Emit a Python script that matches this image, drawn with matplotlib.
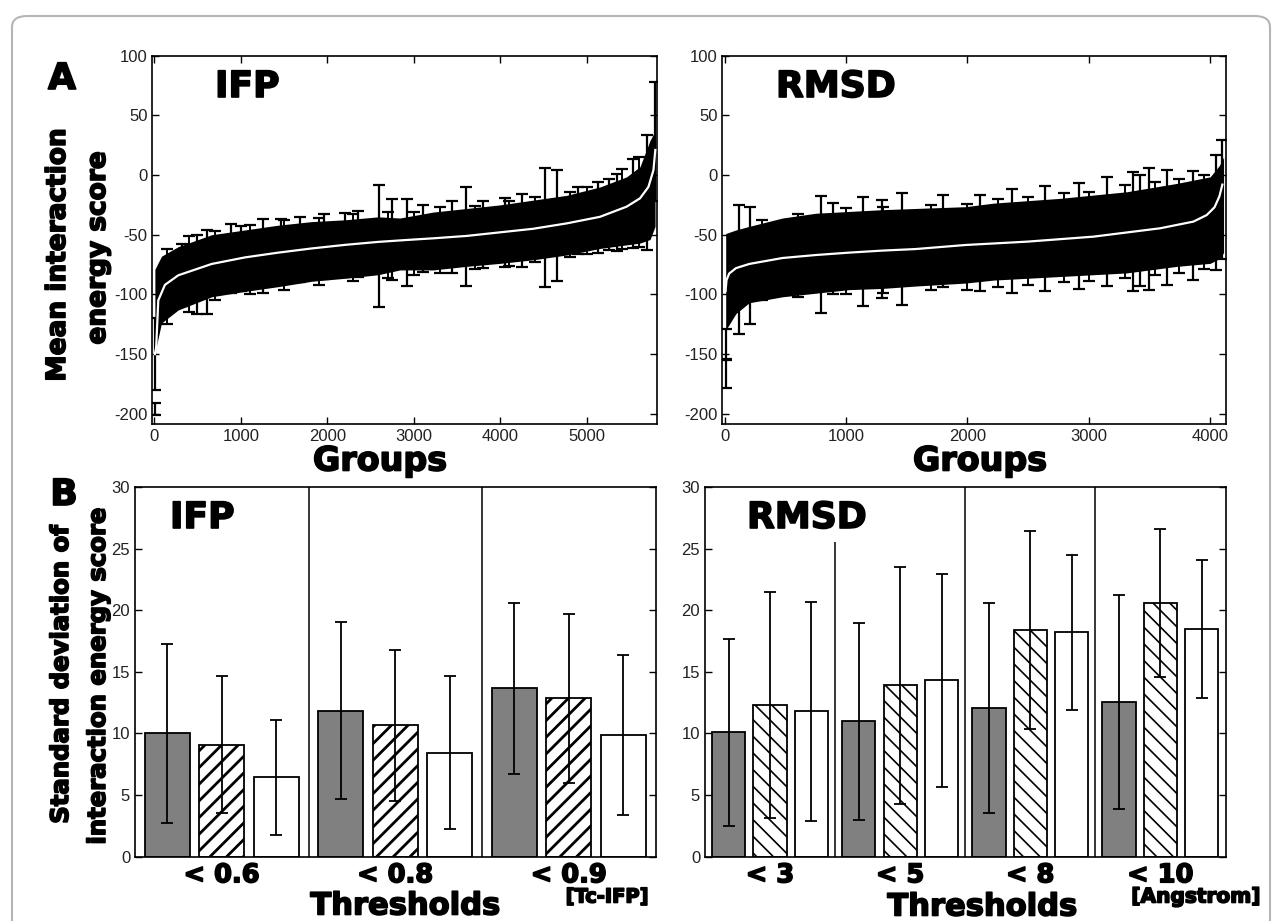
import matplotlib
matplotlib.use('Agg')
import matplotlib.pyplot as plt
import matplotlib.patheffects as pe
from matplotlib.patches import FancyBboxPatch

plt.rcParams['axes.unicode_minus'] = False
plt.rcParams['font.family'] = ['Liberation Sans', 'DejaVu Sans']

# ---- panel A, IFP: sorted mean curve, dense band, visible outlier error bars ----
ifp_mean_x = [5, 20, 44, 121, 275, 661, 1046, 1431, 1817, 2202, 2587, 2895, 3223, 3609,
              3994, 4379, 4765, 5150, 5458, 5613, 5710, 5768, 5790]
ifp_mean_y = [-150, -144, -105, -92, -84, -74.5, -69, -65, -61.5, -58.5, -56, -54.5, -53, -51,
              -48, -45, -40.5, -35, -26.5, -19.5, -10, 4, 21]
ifp_band_x = [5, 81, 275, 661, 1046, 1431, 1817, 2202, 2587, 2838, 3223, 3609, 3994, 4379,
              4765, 5150, 5458, 5613, 5729, 5787]
ifp_band_hi = [-79, -68, -60, -50, -46, -42, -39, -37.5, -35, -36, -31, -28, -25, -21,
               -17, -10, -1.5, 7, 29, 37]
ifp_band_lo = [-149, -124, -113, -102, -97.5, -93.5, -89, -86.5, -83.5, -79.5, -79.5, -76.5, -74, -71,
               -67, -61.5, -58.5, -57, -54, -43]
ifp_sp_x = [3, 8, 320, 488, 603, 884, 1000, 1258, 1460, 1682, 1960, 2202, 2356, 2596, 2750, 2923,
            3100, 3435, 3601, 3800, 4050, 4245, 4514, 4649, 4900, 5131, 5250, 5343, 5536, 5690, 5787]
ifp_sp_m = [-196, -150, -84, -83, -81, -70, -70, -68, -64, -62.5, -60, -58.5, -57.5, -59.5, -54, -56.5,
            -53, -52, -51.5, -50, -48, -46.5, -44, -42, -38, -35.5, -33, -31.5, -24, -14.5, 28]
ifp_sp_e = [5, 30, 26, 33, 35, 29, 27, 31, 27, 27.5, 27, 26.5, 27.5, 51, 34, 36.5,
            28, 30, 41.5, 28, 29, 30.5, 49.5, 46.5, 28, 30, 30, 32.5, 37.5, 48, 50]
# caps along the ragged band edges
ifp_edge_x = [150, 400, 700, 1100, 1500, 1900, 2300, 2700, 3000, 3300, 3700, 4100, 4400,
              4800, 5000, 5400, 5600]
ifp_edge_top = [-62, -51, -47, -42, -38, -36, -33, -31, -31, -27, -26, -22, -18, -14, -10, 5, 15]
ifp_edge_bot = [-125, -115, -105, -100, -96, -92, -89, -86, -84, -82, -79, -76, -73, -69, -66, -62, -60]

# ---- panel A, RMSD ----
rmsd_mean_x = [2, 10, 32, 88, 197, 472, 747, 1022, 1297, 1571, 1983, 2492, 3041, 3591,
               3866, 3976, 4040, 4080, 4105]
rmsd_mean_y = [-97, -88, -82.5, -78, -74.5, -69.5, -67, -65, -63.3, -62, -58.6, -55.8, -51.6, -44.6,
               -39, -33.5, -27, -18, -8]
rmsd_band_x = [3, 88, 197, 472, 747, 1022, 1297, 1571, 1983, 2217, 2767, 3316, 3729, 4004, 4080, 4115]
rmsd_band_hi = [-49, -46, -43, -36, -32, -30.5, -29, -28, -26.5, -23.5, -19.5, -14, -7, -1.5, 8, 15]
rmsd_band_lo = [-130, -116, -107, -102, -99, -96, -95, -93, -90.5, -88, -85, -82, -76.5, -74, -70, -65]
rmsd_sp_x = [3, 8, 115, 203, 788, 890, 1137, 1297, 1462, 1800, 2107, 2368, 2643, 2918, 3151,
             3371, 3426, 3503, 3646, 3866, 4050, 4100]
rmsd_sp_m = [-166, -142, -79, -76, -66.5, -61.5, -64, -62, -62, -55.5, -57, -55.5, -53.5, -51, -47.5,
             -47.5, -46.5, -45.5, -44, -42.5, -31.5, -20.5]
rmsd_sp_e = [12, 13, 54, 49, 49, 38.5, 46, 41, 47, 38.5, 40.5, 43.5, 44, 44.5, 45.5,
             50, 46.5, 51, 48, 45.5, 48, 49.5]
rmsd_edge_x = [300, 600, 1000, 1300, 1700, 2000, 2250, 2500, 2800, 3000, 3300, 3550, 3750, 3950]
rmsd_edge_top = [-38, -33, -28, -27, -25, -24, -20, -18, -15, -14, -8, -6, -3, 0]
rmsd_edge_bot = [-105, -102, -100, -99, -96, -96, -94, -92, -90, -89, -86, -84, -82, -79]

# ---- panel B: standard deviation of interaction energy score ----
ifp_thr = ['< 0.6', '< 0.8', '< 0.9']
ifp_gray = [10.0, 11.85, 13.65]
ifp_gray_err = [7.3, 7.2, 6.9]
ifp_hatch = [9.1, 10.65, 12.85]
ifp_hatch_err = [5.55, 6.1, 6.85]
ifp_white = [6.45, 8.45, 9.9]
ifp_white_err = [4.65, 6.2, 6.5]

rmsd_thr = ['< 3', '< 5', '< 8', '< 10']
rmsd_gray = [10.1, 11.0, 12.05, 12.55]
rmsd_gray_err = [7.6, 8.0, 8.5, 8.65]
rmsd_hatch = [12.3, 13.9, 18.4, 20.6]
rmsd_hatch_err = [9.15, 9.6, 8.05, 6.0]
rmsd_white = [11.8, 14.3, 18.2, 18.5]
rmsd_white_err = [8.9, 8.65, 6.3, 5.6]

W, H = 1284, 921
fig = plt.figure(figsize=(W / 100, H / 100), dpi=100)


def box(left, top, right, bottom):
    return [left / W, 1 - bottom / H, (right - left) / W, (bottom - top) / H]


heavy = dict(family='DejaVu Sans', fontweight='bold',
             path_effects=[pe.withStroke(linewidth=1.2, foreground='black')])


def ftext(px, py, s, size, **kw):
    opts = dict(heavy)
    opts.update(kw)
    fig.text(px / W, 1 - py / H, s, fontsize=size, **opts)


def style_ticks(ax):
    ax.tick_params(direction='in', top=True, right=True, length=5, width=1,
                   labelsize=12, labelcolor='#222222')
    for s in ax.spines.values():
        s.set_linewidth(1.2)


def draw_groups(ax, bx, lo, hi, mx, my, sx, sm, se, ex, etop, ebot, xmax, xticks):
    ax.fill_between(bx, lo, hi, color='black', lw=0, zorder=2)
    emid = [(t + b) / 2 for t, b in zip(etop, ebot)]
    ehalf = [(t - b) / 2 for t, b in zip(etop, ebot)]
    ax.errorbar(ex, emid, yerr=ehalf, fmt='none', ecolor='black', elinewidth=1.4,
                capsize=4, capthick=1.6, zorder=3)
    ax.errorbar(sx, sm, yerr=se, fmt='none', ecolor='black', elinewidth=1.6,
                capsize=4, capthick=1.6, zorder=3)
    ax.plot(mx, my, color='white', lw=1.6, zorder=4)
    ax.set_xlim(-25, xmax)
    ax.set_ylim(-209, 100)
    ax.set_xticks(xticks)
    ax.set_yticks([-200, -150, -100, -50, 0, 50, 100])
    style_ticks(ax)


axA1 = fig.add_axes(box(152.3, 55.7, 656.7, 424.5))
draw_groups(axA1, ifp_band_x, ifp_band_lo, ifp_band_hi, ifp_mean_x, ifp_mean_y,
            ifp_sp_x, ifp_sp_m, ifp_sp_e, ifp_edge_x, ifp_edge_top, ifp_edge_bot,
            5806, [0, 1000, 2000, 3000, 4000, 5000])
axA2 = fig.add_axes(box(722.3, 55.7, 1226, 424.5))
draw_groups(axA2, rmsd_band_x, rmsd_band_lo, rmsd_band_hi, rmsd_mean_x, rmsd_mean_y,
            rmsd_sp_x, rmsd_sp_m, rmsd_sp_e, rmsd_edge_x, rmsd_edge_top, rmsd_edge_bot,
            4135, [0, 1000, 2000, 3000, 4000])


def draw_std(ax, thr, vals, errs, off, width, hatch, hlw, sep_tops):
    n = len(thr)
    fills = ['#808080', 'white', 'white']
    hatches = [None, hatch, None]
    for k in range(3):
        xs = [i + (k - 1) * off for i in range(n)]
        plt.rcParams['hatch.linewidth'] = hlw
        ax.bar(xs, vals[k], width=width, color=fills[k], edgecolor='black',
               linewidth=1.3, hatch=hatches[k], zorder=2)
        ax.errorbar(xs, vals[k], yerr=errs[k], fmt='none', ecolor='black',
                    elinewidth=1.3, capsize=4, capthick=1.3, zorder=3)
    for i, top in enumerate(sep_tops):
        ax.vlines(i + 0.5, 0, top, color='black', lw=1.1, zorder=1)
    ax.set_xlim(-0.5, n - 0.5)
    ax.set_ylim(0, 30)
    ax.set_yticks([0, 5, 10, 15, 20, 25, 30])
    style_ticks(ax)
    ax.set_xticks(range(n))
    ax.set_xticklabels(thr, fontsize=18.5, fontweight='bold', family='DejaVu Sans',
                       color='black')
    for t in ax.get_xticklabels():
        t.set_path_effects([pe.withStroke(linewidth=1.2, foreground='black')])
    ax.tick_params(axis='x', length=0, pad=4, top=False, labelcolor='black',
                   labelsize=18.5)


axB1 = fig.add_axes(box(135, 487, 655.7, 856.7))
draw_std(axB1, ifp_thr, [ifp_gray, ifp_hatch, ifp_white],
         [ifp_gray_err, ifp_hatch_err, ifp_white_err], 0.314, 0.26, '//', 2.0, [30, 30])
axB2 = fig.add_axes(box(705, 487, 1225.5, 856.7))
draw_std(axB2, rmsd_thr, [rmsd_gray, rmsd_hatch, rmsd_white],
         [rmsd_gray_err, rmsd_hatch_err, rmsd_white_err], 0.318, 0.256, '\\\\', 1.2,
         [25.5, 30, 30])

# panel letters, titles, axis labels
ftext(62, 79, 'A', 26, ha='center', va='center')
ftext(215, 87, 'IFP', 26, ha='left', va='center')
ftext(776, 87, 'RMSD', 26, ha='left', va='center')
ftext(380, 461, 'Groups', 24, ha='center', va='center')
ftext(980, 461, 'Groups', 24, ha='center', va='center')
ftext(58, 255, 'Mean interaction', 19, ha='center', va='center', rotation=90)
ftext(98, 248, 'energy score', 19, ha='center', va='center', rotation=90)

ftext(64, 495, 'B', 26, ha='center', va='center')
ftext(170, 518, 'IFP', 26, ha='left', va='center')
ftext(747, 518, 'RMSD', 26, ha='left', va='center')
ftext(61, 675, 'Standard deviation of', 17.5, ha='center', va='center', rotation=90)
ftext(98, 677, 'interaction energy score', 17.5, ha='center', va='center', rotation=90)
ftext(405, 906, 'Thresholds', 22, ha='center', va='center')
ftext(607, 897, '[Tc-IFP]', 14, ha='center', va='center')
ftext(982, 907, 'Thresholds', 22, ha='center', va='center')
ftext(1196, 897, '[Angstrom]', 14.5, ha='center', va='center')

# light rounded frame around the whole figure
fig.patches.append(FancyBboxPatch((12 / W, -0.05), 1258 / W, 1 - 16 / H + 0.05,
                                  boxstyle='round,pad=0,rounding_size=0.012',
                                  transform=fig.transFigure, fill=False,
                                  edgecolor='#b5b5b5', lw=1.5))

fig.savefig('out.png', dpi=100)
